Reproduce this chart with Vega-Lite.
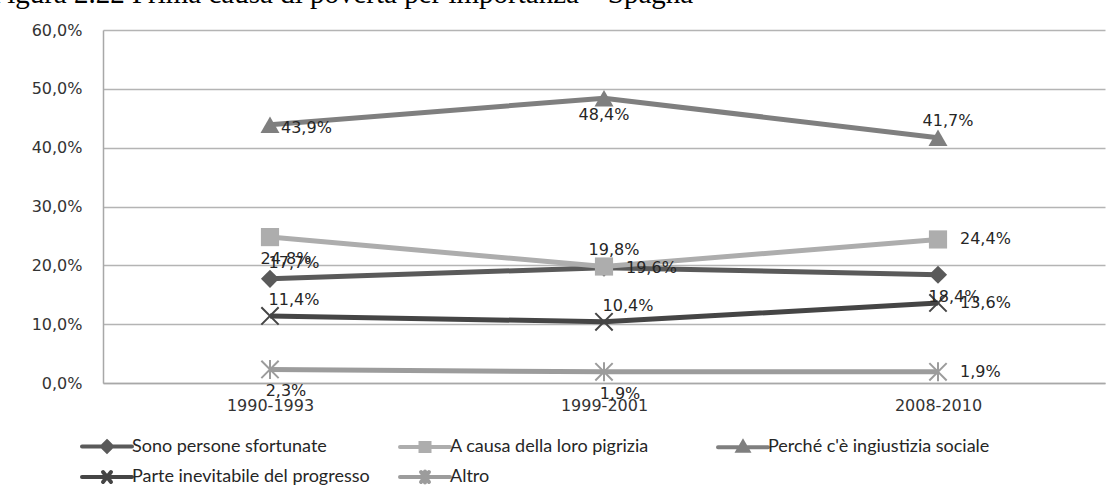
{
  "$schema": "https://vega.github.io/schema/vega-lite/v6.json",
  "autosize": {"type": "none"},
  "width": 1002,
  "height": 353,
  "padding": {"left": 103, "top": 30, "right": 12, "bottom": 112},
  "background": "white",
  "title": {
    "text": "Figura 2.22 Prima causa di povertà per importanza – Spagna",
    "anchor": "start",
    "frame": "group",
    "font": "Liberation Serif",
    "fontSize": 29,
    "fontWeight": "normal",
    "color": "#000000",
    "baseline": "alphabetic",
    "dx": -112,
    "dy": 10,
    "offset": 0
  },
  "config": {
    "locale": {"number": {"decimal": ",", "thousands": ".", "grouping": [3], "currency": ["", " €"]}},
    "view": {"stroke": null},
    "axis": {"labelFont": "DejaVu Sans", "labelFontSize": 16, "labelColor": "#333333"}
  },
  "data": {
    "values": [
      {"serie": "Sono persone sfortunate", "periodo": "1990-1993", "valore": 0.177},
      {"serie": "Sono persone sfortunate", "periodo": "1999-2001", "valore": 0.196},
      {"serie": "Sono persone sfortunate", "periodo": "2008-2010", "valore": 0.184},
      {"serie": "A causa della loro pigrizia", "periodo": "1990-1993", "valore": 0.248},
      {"serie": "A causa della loro pigrizia", "periodo": "1999-2001", "valore": 0.198},
      {"serie": "A causa della loro pigrizia", "periodo": "2008-2010", "valore": 0.244},
      {"serie": "Perché c'è ingiustizia sociale", "periodo": "1990-1993", "valore": 0.439},
      {"serie": "Perché c'è ingiustizia sociale", "periodo": "1999-2001", "valore": 0.484},
      {"serie": "Perché c'è ingiustizia sociale", "periodo": "2008-2010", "valore": 0.417},
      {"serie": "Parte inevitabile del progresso", "periodo": "1990-1993", "valore": 0.114},
      {"serie": "Parte inevitabile del progresso", "periodo": "1999-2001", "valore": 0.104},
      {"serie": "Parte inevitabile del progresso", "periodo": "2008-2010", "valore": 0.136},
      {"serie": "Altro", "periodo": "1990-1993", "valore": 0.023},
      {"serie": "Altro", "periodo": "1999-2001", "valore": 0.019},
      {"serie": "Altro", "periodo": "2008-2010", "valore": 0.019}
    ]
  },
  "encoding": {
    "x": {
      "field": "periodo", "type": "ordinal", "sort": null,
      "scale": {"type": "point", "padding": 0.5},
      "axis": {"title": null, "labelAngle": 0, "ticks": false, "domain": true, "domainColor": "#a8a8a8", "domainWidth": 1.5, "grid": false, "labelPadding": 14}
    },
    "y": {
      "field": "valore", "type": "quantitative",
      "scale": {"domain": [0, 0.6], "nice": false},
      "axis": {"title": null, "values": [0, 0.1, 0.2, 0.3, 0.4, 0.5, 0.6], "format": ".1%", "ticks": false, "domain": true, "domainColor": "#a8a8a8", "domainWidth": 1.5, "grid": true, "gridColor": "#b4b4b4", "gridWidth": 1.5, "labelPadding": 21}
    },
    "color": {
      "field": "serie", "type": "nominal",
      "scale": {
        "domain": ["Sono persone sfortunate", "A causa della loro pigrizia", "Perché c'è ingiustizia sociale", "Parte inevitabile del progresso", "Altro"],
        "range": ["#5a5a5a", "#adadad", "#7f7f7f", "#454545", "#9c9c9c"]
      },
      "legend": {
        "title": null,
        "orient": "none",
        "legendX": -5,
        "legendY": 407,
        "direction": "horizontal",
        "columns": 3,
        "gridAlign": "all",
        "columnPadding": 22,
        "rowPadding": 3,
        "symbolSize": 100,
        "symbolStrokeWidth": 4,
        "labelFont": "Lato",
        "labelFontSize": 18,
        "labelColor": "#262626",
        "labelOffset": 16,
        "labelLimit": 400,
        "encode": {
          "symbols": {
            "enter": {
              "shape": {"signal": "datum.value === 'Sono persone sfortunate' ? 'M-5,0L5,0M0,-1L1,0L0,1L-1,0Z' : datum.value === 'A causa della loro pigrizia' ? 'M-5,0L5,0M-0.9,-0.8L0.9,-0.8L0.9,0.8L-0.9,0.8Z' : datum.value === 'Altro' ? 'M-5,0L5,0M-0.8,-1L0.8,1M-0.8,1L0.8,-1M0,-1.1L0,1.1' : datum.value === 'Parte inevitabile del progresso' ? 'M-5,0L5,0M-0.8,-1L0.8,1M-0.8,1L0.8,-1' : 'M-5,0L5,0M0,-1L1,0.7L-1,0.7Z'"}
            },
            "update": {
              "shape": {"signal": "datum.value === 'Sono persone sfortunate' ? 'M-5,0L5,0M0,-1L1,0L0,1L-1,0Z' : datum.value === 'A causa della loro pigrizia' ? 'M-5,0L5,0M-0.9,-0.8L0.9,-0.8L0.9,0.8L-0.9,0.8Z' : datum.value === 'Altro' ? 'M-5,0L5,0M-0.8,-1L0.8,1M-0.8,1L0.8,-1M0,-1.1L0,1.1' : datum.value === 'Parte inevitabile del progresso' ? 'M-5,0L5,0M-0.8,-1L0.8,1M-0.8,1L0.8,-1' : 'M-5,0L5,0M0,-1L1,0.7L-1,0.7Z'"},
              "fill": {"scale": "color", "field": "value"},
              "stroke": {"scale": "color", "field": "value"},
              "strokeWidth": {"value": 4},
              "strokeCap": {"value": "round"},
              "opacity": {"value": 1}
            }
          }
        }
      }
    }
  },
  "layer": [
    {
      "mark": {"type": "line", "strokeWidth": 5, "strokeJoin": "round"}
    },
    {
      "transform": [{"filter": {"field": "serie", "equal": "Sono persone sfortunate"}}],
      "mark": {"type": "point", "filled": true, "opacity": 1, "size": 330, "shape": "diamond"}
    },
    {
      "transform": [{"filter": {"field": "serie", "equal": "A causa della loro pigrizia"}}],
      "mark": {"type": "point", "filled": true, "opacity": 1, "size": 330, "shape": "square"}
    },
    {
      "transform": [{"filter": {"field": "serie", "equal": "Perché c'è ingiustizia sociale"}}],
      "mark": {"type": "point", "filled": true, "opacity": 1, "size": 360, "shape": "triangle-up"}
    },
    {
      "transform": [{"filter": {"field": "serie", "equal": "Parte inevitabile del progresso"}}],
      "mark": {"type": "point", "filled": false, "opacity": 1, "size": 300, "strokeWidth": 2, "shape": "M-1,-1L1,1M-1,1L1,-1"}
    },
    {
      "transform": [{"filter": {"field": "serie", "equal": "Altro"}}],
      "mark": {"type": "point", "filled": false, "opacity": 1, "size": 300, "strokeWidth": 2, "shape": "M-1,-1L1,1M-1,1L1,-1M0,-1.1L0,1.1"}
    },
    {
      "transform": [{"filter": "indexof(['A ca2008','Part2008','Altr2008','Sono1999'], substring(datum.serie,0,4) + substring(datum.periodo,0,4)) >= 0"}],
      "mark": {"type": "text", "align": "left", "baseline": "middle", "dx": 22, "dy": 0, "font": "DejaVu Sans", "fontSize": 16},
      "encoding": {"text": {"field": "valore", "type": "quantitative", "format": ".1%"}, "color": {"value": "#262626"}}
    },
    {
      "transform": [{"filter": "indexof(['Perc1990'], substring(datum.serie,0,4) + substring(datum.periodo,0,4)) >= 0"}],
      "mark": {"type": "text", "align": "left", "baseline": "middle", "dx": 11, "dy": 3, "font": "DejaVu Sans", "fontSize": 16},
      "encoding": {"text": {"field": "valore", "type": "quantitative", "format": ".1%"}, "color": {"value": "#262626"}}
    },
    {
      "transform": [{"filter": "indexof(['A ca1999','Perc2008'], substring(datum.serie,0,4) + substring(datum.periodo,0,4)) >= 0"}],
      "mark": {"type": "text", "align": "center", "baseline": "middle", "dx": 10, "dy": -17, "font": "DejaVu Sans", "fontSize": 16},
      "encoding": {"text": {"field": "valore", "type": "quantitative", "format": ".1%"}, "color": {"value": "#262626"}}
    },
    {
      "transform": [{"filter": "indexof(['Sono1990','Part1990','Part1999'], substring(datum.serie,0,4) + substring(datum.periodo,0,4)) >= 0"}],
      "mark": {"type": "text", "align": "center", "baseline": "middle", "dx": 24, "dy": -16, "font": "DejaVu Sans", "fontSize": 16},
      "encoding": {"text": {"field": "valore", "type": "quantitative", "format": ".1%"}, "color": {"value": "#262626"}}
    },
    {
      "transform": [{"filter": "indexof(['Perc1999'], substring(datum.serie,0,4) + substring(datum.periodo,0,4)) >= 0"}],
      "mark": {"type": "text", "align": "center", "baseline": "middle", "dx": 0, "dy": 17, "font": "DejaVu Sans", "fontSize": 16},
      "encoding": {"text": {"field": "valore", "type": "quantitative", "format": ".1%"}, "color": {"value": "#262626"}}
    },
    {
      "transform": [{"filter": "indexof(['A ca1990','Sono2008','Altr1990','Altr1999'], substring(datum.serie,0,4) + substring(datum.periodo,0,4)) >= 0"}],
      "mark": {"type": "text", "align": "center", "baseline": "middle", "dx": 16, "dy": 22, "font": "DejaVu Sans", "fontSize": 16},
      "encoding": {"text": {"field": "valore", "type": "quantitative", "format": ".1%"}, "color": {"value": "#262626"}}
    }
  ]
}
